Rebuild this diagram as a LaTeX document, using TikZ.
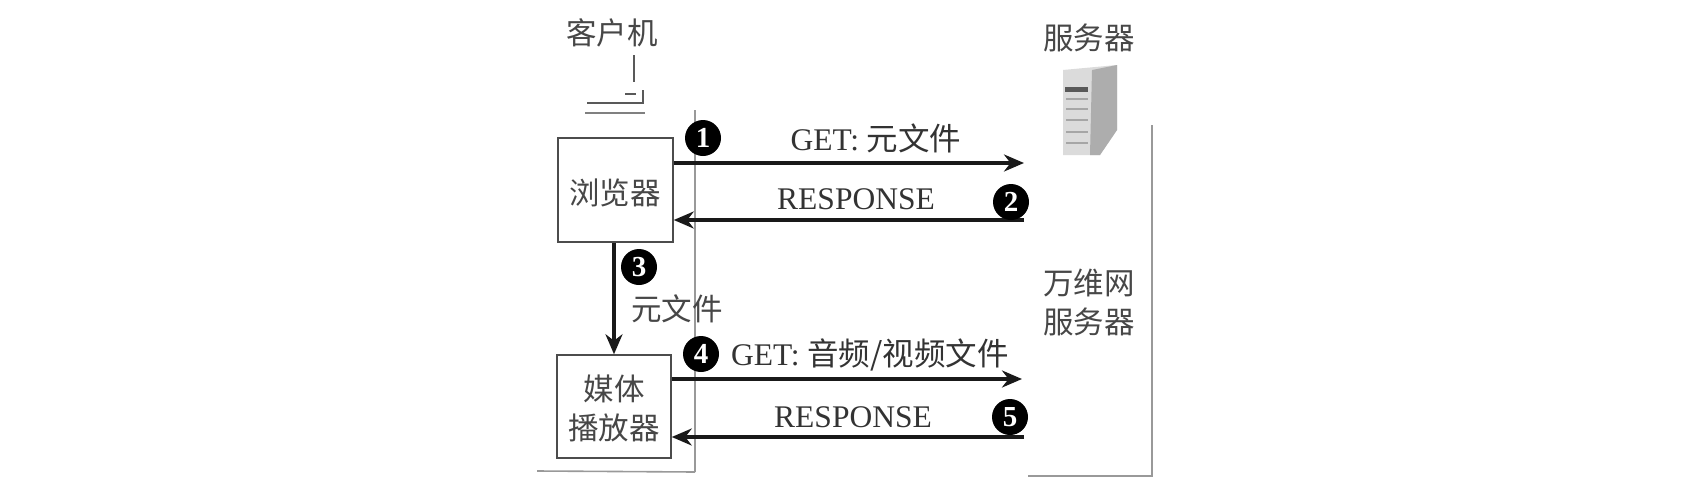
\documentclass[tikz,border=0pt]{standalone}
\usepackage{fontspec}
\setmainfont{Liberation Serif}
\newfontfamily\cjk{Noto Sans CJK SC}
\usetikzlibrary{arrows.meta}
\tikzset{
  boxnode/.style={draw=black!70,line width=1.5pt,fill=white,inner sep=0pt},
  cjktext/.style={font=\cjk\fontsize{30.5}{39}\selectfont,text=black!72,align=center,inner sep=0pt},
  mixtext/.style={font=\fontsize{31.5}{36}\selectfont,text=black!80,inner sep=0pt},
  flow/.style={line width=3.2pt,black!90,-{Stealth[length=20pt,width=17pt]}},
  wall/.style={line width=1.6pt,black!40},
  badge/.style={circle,fill=black,text=white,font=\bfseries\fontsize{29}{29}\selectfont,minimum size=36pt,inner sep=0pt},
  thin line/.style={line width=1.4pt,black!65}
}
\newcommand{\cj}[1]{{\cjk #1}}
\begin{document}
\begin{tikzpicture}[x=1pt,y=-1pt]
\useasboundingbox (0,0) rectangle (1700,498);
\fill[white] (0,0) rectangle (1700,498);
% walls
\coordinate (lwt) at (695,110);
\coordinate (lwb) at (695,472);
\coordinate (lwl) at (537,471);
\draw[wall] (lwt) -- (lwb);
\draw[wall] (lwl) -- (lwb);
\coordinate (rwt) at (1152,125);
\coordinate (rwb) at (1152,476);
\coordinate (rwl) at (1028,476);
\draw[wall] (rwt) -- (rwb) -- (rwl);
% client icon
\draw[thin line] (634,55) -- (634,82);
\draw[thin line] (587,103) -- (643,103) -- (643,90);
\draw[thin line] (625,94) -- (636,94);
\draw[thin line,black!50] (585,113) -- (645,113);
% server icon
\fill[black!14] (1063,70) -- (1117,65) -- (1117,130) -- (1100,155) -- (1063,155) -- cycle;
\fill[black!32] (1092,70) -- (1117,65) -- (1117,130) -- (1100,155) -- (1090,155) -- cycle;
\fill[black!65] (1065,87) rectangle (1088,92);
\foreach \yy in {99,109,120,132,143} \draw[black!35,line width=1.5pt] (1066,\yy) -- (1088,\yy);
% boxes
\node[boxnode,minimum width=115pt,minimum height=104pt] (browser) at (615.5,190) {};
\node[boxnode,minimum width=114pt,minimum height=103pt] (player) at (614,406.5) {};
\node[cjktext] (browsertext) at (615,193) {浏览器};
\node[cjktext] (playertext) at (614,408) {媒体\\播放器};
\node[cjktext] (clientlabel) at (612,33) {客户机};
\node[cjktext] (serverlabel) at (1089,38) {服务器};
\node[cjktext] (webserver) at (1089,302) {万维网\\服务器};
% connectors
\coordinate (e1) at (1024,163);
\coordinate (s2) at (1024,220);
\coordinate (e4) at (1022,379);
\coordinate (s5) at (1024,437);
\draw[flow] (browser.east |- e1) -- (e1);
\draw[flow] (s2) -- (browser.east |- s2);
\draw[flow] (browser.south -| player.north) -- (player.north);
\draw[flow] (player.east |- e4) -- (e4);
\draw[flow] (s5) -- (player.east |- s5);
% labels
\node[mixtext] (l1) at (876,138) {GET: \cj{元文件}};
\node[mixtext] (l2) at (856,199) {RESPONSE};
\node[cjktext] (l3) at (677,309) {元文件};
\node[mixtext] (l4) at (870,355) {GET: \cj{音频/视频文件}};
\node[mixtext] (l5) at (853,417) {RESPONSE};
% badges
\node[badge] (b1) at (703,138) {1};
\node[badge] (b2) at (1011,202) {2};
\node[badge] (b3) at (639,267) {3};
\node[badge] (b4) at (701,354) {4};
\node[badge] (b5) at (1010,417) {5};
\end{tikzpicture}
\end{document}
